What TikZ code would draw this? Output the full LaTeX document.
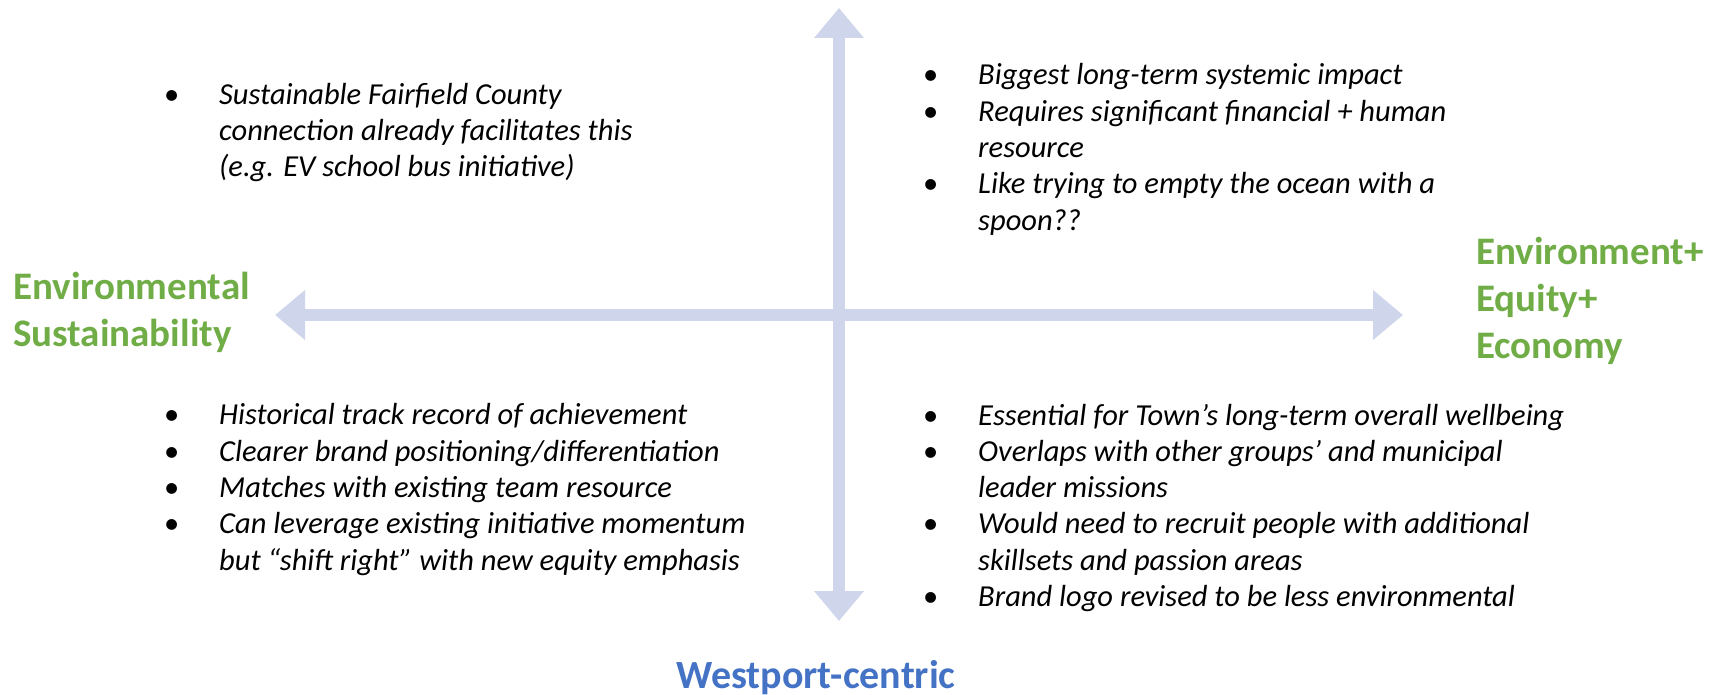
\documentclass[tikz,border=0pt]{standalone}
\usepackage{fontspec}
\setmainfont{Carlito}
\usetikzlibrary{arrows.meta}
\definecolor{axisblue}{RGB}{207,213,234}
\definecolor{polegreen}{RGB}{112,173,71}
\definecolor{poleblue}{RGB}{68,114,196}
\newcommand{\blt}{\llap{\upshape\textbullet\hspace{40pt}}}
\tikzset{
    axis/.style={
        draw=axisblue,
        line width=12pt,
        {Triangle[width=48pt,length=30pt]}-{Triangle[width=48pt,length=30pt]},
    },
    % base of a multi-line node = baseline of its last line
    notes/.style={
        align=left,
        anchor=base west,
        inner sep=0pt,
        font=\itshape\fontsize{30.5}{36.3}\selectfont,
    },
    pole/.style={
        align=left,
        anchor=base west,
        inner sep=0pt,
        text=polegreen,
        font=\bfseries\fontsize{39}{47}\selectfont,
    },
}

\begin{document}
\begin{tikzpicture}[x=1pt,y=-1pt]
    \useasboundingbox (0,0) rectangle (1718,695);

    \coordinate (top) at (839,8);
    \coordinate (bot) at (839,621);
    \coordinate (lft) at (275,315);
    \coordinate (rgt) at (1403,315);

    \draw[axis] (bot) -- (top);
    \draw[axis] (lft) -- (rgt);

    \node[pole] (envsus) at (13,346) {Environmental\\Sustainability};
    \node[pole] (triple) at (1476,358) {Environment+\\Equity+\\Economy};
    \node[pole, anchor=base, text=poleblue, font=\bfseries\fontsize{40}{47}\selectfont] (westport) at (816,688) {Westport-centric};

    \node[notes] (tl) at (219,177) {\blt Sustainable Fairfield County\\
        connection already facilitates this\\
        (e.g. EV school bus initiative)};
    \node[notes] (tr) at (978,230) {\blt Biggest long-term systemic impact\\
        \blt Requires significant financial + human\\
        resource\\
        \blt Like trying to empty the ocean with a\\
        spoon??};
    \node[notes] (bl) at (219,570) {\blt Historical track record of achievement\\
        \blt Clearer brand positioning/differentiation\\
        \blt Matches with existing team resource\\
        \blt Can leverage existing initiative momentum\\
        but “shift right” with new equity emphasis};
    \node[notes] (br) at (978,606.5) {\blt Essential for Town’s long-term overall wellbeing\\
        \blt Overlaps with other groups’ and municipal\\
        leader missions\\
        \blt Would need to recruit people with additional\\
        skillsets and passion areas\\
        \blt Brand logo revised to be less environmental};
\end{tikzpicture}
\end{document}
